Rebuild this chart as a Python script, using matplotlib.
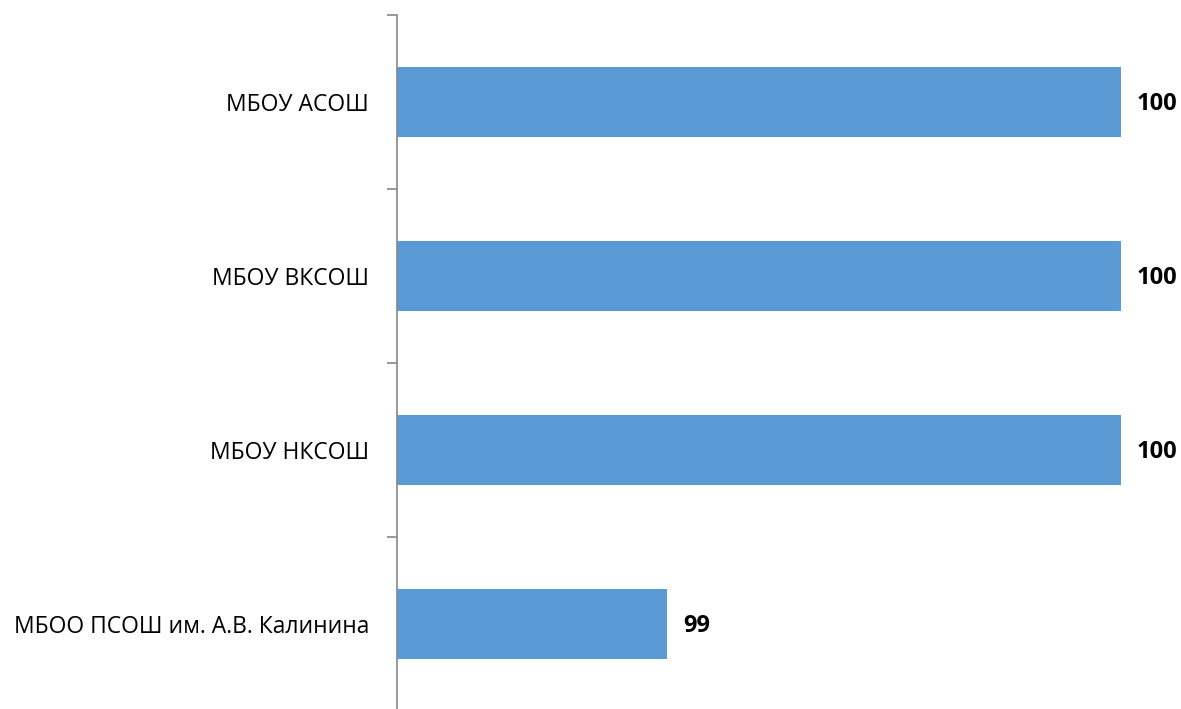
import matplotlib
matplotlib.use("Agg")
from matplotlib import pyplot as plt

schools = ["МБОУ АСОШ", "МБОУ ВКСОШ", "МБОУ НКСОШ", "МБОО ПСОШ им. А.В. Калинина"]
values = [100, 100, 100, 99]
value_labels = ["100", "100", "100", "99"]

plt.rcParams['font.family'] = ['Open Sans', 'DejaVu Sans']

fig = plt.figure(figsize=(11.81, 7.09), dpi=100)
ax = fig.add_axes([397 / 1181, -2 / 709, (1121 - 397) / 1181, 696 / 709])

pos = list(range(len(schools)))
ax.barh(pos, values, height=0.4, color="#5B9BD5", left=0)
ax.set_xlim(98.405, 100)
ax.set_ylim(len(schools) - 0.5, -0.5)

for p, v, t in zip(pos, values, value_labels):
    ax.annotate(t, (v, p), xytext=(11.5, -1.5), textcoords="offset points",
                va="center", ha="left", fontsize=17, fontweight="bold")

ax.set_yticks([p + 0.5 for p in pos[:-1]] + [-0.5])
ax.set_yticklabels([])
ax.set_yticks(pos, minor=True)
ax.set_yticklabels(schools, minor=True, fontsize=16.5)
ax.tick_params(axis="y", which="major", length=7, color="#868686", width=1.2)
ax.tick_params(axis="y", which="minor", length=0, pad=20)
ax.set_xticks([])

for s in ("top", "right", "bottom"):
    ax.spines[s].set_visible(False)
ax.spines["left"].set_color("#868686")
ax.spines["left"].set_linewidth(1.2)

fig.savefig("out.png", dpi=100)
